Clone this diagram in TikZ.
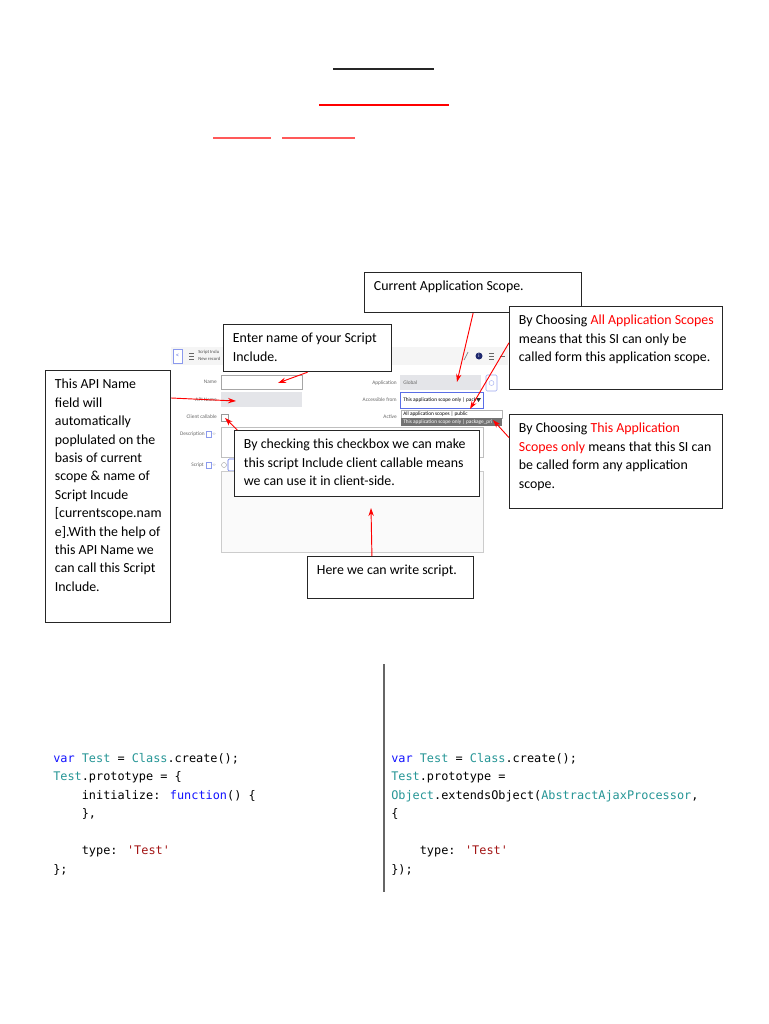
\documentclass[tikz,border=0pt]{standalone}
\usepackage{fontspec}
\setmainfont{Carlito}
\newfontfamily\codefont[Ligatures=TeXOff]{DejaVu Sans Mono}
\usepackage{xcolor}
\usetikzlibrary{positioning}
\usetikzlibrary{arrows.meta}
\usetikzlibrary{calc}

\definecolor{kwblue}{RGB}{20,20,255}
\definecolor{clsteal}{RGB}{38,150,150}
\definecolor{strred}{RGB}{163,21,21}
\definecolor{fieldgray}{RGB}{228,229,233}
\definecolor{selblue}{RGB}{90,110,230}
\definecolor{navy}{RGB}{30,40,110}

\newcommand{\kw}[1]{\textcolor{kwblue}{#1}}
\newcommand{\cls}[1]{\textcolor{clsteal}{#1}}
\newcommand{\strlit}[1]{\textcolor{strred}{#1}}
\newcommand{\hl}[1]{\textcolor{red}{#1}}
\newcommand{\ind}{\phantom{xxxx}}
\newcommand{\notebox}[3]{\parbox[t][#2][t]{#1}{\begin{tabular}[t]{@{}l@{}}#3\end{tabular}}}

\tikzset{note/.style={draw=black!85,line width=0.9pt,fill=white,anchor=north west,inner xsep=7pt,inner ysep=4pt,font=\fontsize{10.4}{13.8}\selectfont},}
\tikzset{pointer/.style={->,>={Stealth[length=6pt,width=4pt]},red,line width=0.7pt},}
\tikzset{code line/.style={anchor=base west,inner sep=0pt,font=\codefont\fontsize{8.9}{13.9}\selectfont},}
\tikzset{form label/.style={anchor=east,inner sep=0pt,text=black!60,font=\fontsize{4}{4.5}\selectfont},}
\tikzset{form text/.style={anchor=west,inner sep=0pt,font=\fontsize{4}{4.5}\selectfont},}

\begin{document}
\begin{tikzpicture}[x=0.75pt,y=-0.75pt]
    \useasboundingbox (0,0) rectangle (768,1024);
    \fill[white] (0,0) rectangle (768,1024);

    % heading rules
    \draw[line width=1.5pt,black!85] (333,69) -- (434,69);
    \draw[line width=1.5pt,red] (319,105) -- (449,105);
    \draw[line width=1.1pt,red!65] (213,138) -- (271,138);
    \draw[line width=1.1pt,red!65] (282,138) -- (355,138);

    % form screenshot
    \fill[black!4] (171,347) rectangle (508,365);
    \node[draw=selblue!70,fill=white,minimum width=6.75pt,minimum height=10.5pt,inner sep=0pt,text=selblue,font=\fontsize{5}{5}\selectfont] (backbtn) at (177.5,356) {\textless};
    \draw[black!60,line width=0.4pt] (189,353) -- (194,353) (189,356) -- (194,356) (189,359) -- (194,359);
    \node[form text,text=black!70,font=\fontsize{3.5}{4}\selectfont] (ttl1) at (198,352) {Script Inclu};
    \node[form text,text=black!70,font=\fontsize{3.5}{4}\selectfont] (ttl2) at (198,359) {New record};
    \draw[black!50,line width=0.5pt] (464,360) -- (468,352);
    \fill[navy] (479,356) circle (3.5);
    \node[inner sep=0pt,text=white,font=\fontsize{4}{4}\selectfont] (infoi) at (479,356) {i};
    \draw[black!60,line width=0.4pt] (489,353) -- (494,353) (489,356) -- (494,356) (489,359) -- (494,359);
    \draw[black!60,line width=0.4pt] (500,356) -- (505,356);

    \node[form label] (lname) at (217,382) {Name};
    \node[form label] (lapi) at (217,400) {API Name};
    \node[form label] (lclient) at (217,417) {Client callable};
    \node[form label] (ldesc) at (205,434) {Description};
    \node[form label] (lscript) at (204,465) {Script};
    \draw[selblue!70,line width=0.3pt] (206,431) rectangle (211,437) (206,462) rectangle (211,468);
    \node[form text,text=black!50] (ldesctag) at (212,434) {‹›};
    \node[form text,text=black!50] (lscripttag) at (212,465) {‹›};

    \draw[black!35,fill=white] (221,375) rectangle (302,389);
    \fill[fieldgray] (221,392) rectangle (302,407);
    \draw[black!40,fill=white] (221,414) rectangle (228,421);
    \draw[black!25,fill=white] (221,427) rectangle (483,457);
    \draw[black!40,line width=0.3pt] (224,465) circle (2.5);
    \draw[selblue,line width=0.4pt,fill=white,rounded corners=1pt] (228,459) rectangle (236,471);
    \draw[black!20,fill=black!2] (221,471) rectangle (483,552);

    \node[form label] (lapp) at (397,383) {Application};
    \fill[fieldgray] (400,375) rectangle (481,390);
    \node[form text,text=black!60] (vapp) at (403,382.5) {Global};
    \draw[selblue!60,fill=white,rounded corners=1pt] (486,375) rectangle (497,391);
    \draw[selblue!60,line width=0.3pt] (491.5,383) circle (2.5);
    \node[form label] (lacc) at (397,400) {Accessible from};
    \draw[selblue,line width=0.6pt,fill=white] (400,392) rectangle (483,408);
    \node[form text] (vacc) at (403,400) {This application scope only | pack};
    \fill[black!80] (476,398) -- (481,398) -- (478.5,402) -- cycle;
    \node[form label] (lact) at (397,417) {Active};
    \draw[black!30,fill=white] (401,410) rectangle (502,418);
    \node[form text] (vpub) at (403,414) {All application scopes | public};
    \fill[black!55] (401,418) rectangle (502,426);
    \node[form text,text=white] (vpkg) at (403,422) {This application scope only | package\_pri};

    % arrow targets on the form
    \coordinate (append) at (457,382);
    \coordinate (pubend) at (470,409);
    \coordinate (pkgend) at (493,420);
    \coordinate (nameend) at (278,383);
    \coordinate (apiend) at (236,401);
    \coordinate (chkend) at (225,418);
    \coordinate (scrend) at (371,508);

    % notes
    \node[note] (curscope) at (364,272) {\notebox{148.75pt}{22pt}{Current Application Scope.}};
    \node[note] (allscopes) at (509,306) {\notebox{145.75pt}{54.25pt}{By Choosing \hl{All Application Scopes}\\ means that this SI can only be\\ called form this application scope.}};
    \node[note] (thisscope) at (509,414) {\notebox{145.75pt}{62.5pt}{By Choosing \hl{This Application}\\ \hl{Scopes only} means that this SI can\\ be called form any application\\ scope.}};
    \node[note] (entername) at (223,324) {\notebox{112pt}{27.25pt}{Enter name of your Script\\ Include.}};
    \node[note] (apinote) at (45,370) {\notebox{79.75pt}{181pt}{This API Name\\ field will\\ automatically\\ poplulated on the\\ basis of current\\ scope \& name of\\ Script Incude\\{}[currentscope.nam\\ e].With the help of\\ this API Name we\\ can call this Script\\ Include.}};
    \node[note] (clientnote) at (234,430) {\notebox{169.75pt}{41.5pt}{By checking this checkbox we can make\\ this script Include client callable means\\ we can use it in client-side.}};
    \node[note] (scriptnote) at (307,556) {\notebox{110.5pt}{23.5pt}{Here we can write script.}};

    \path[pointer]
    (curscope.south) edge (append)
    ([yshift=4pt]allscopes.west) edge (pubend)
    ([yshift=18pt]thisscope.west) edge (pkgend)
    (entername.south) edge (nameend)
    ([yshift=-21pt]apinote.north east) edge (apiend)
    ([xshift=2.5pt]clientnote.north west) edge (chkend)
    ([xshift=-14pt]scriptnote.north) edge (scrend);

    % code samples
    \coordinate (divtop) at (384,664);
    \coordinate (divbot) at (384,892);
    \draw[line width=1.1pt,black!60] (divtop) -- (divbot);

    \node[code line] (lc1) at (53,762) {\kw{var} \cls{Test} = \cls{Class}.create();};
    \node[code line] (lc2) at (53,780.5) {\cls{Test}.prototype = \{};
    \node[code line] (lc3) at (53,799) {\ind initialize: \kw{function}() \{};
    \node[code line] (lc4) at (53,817.5) {\ind \},};
    \node[code line] (lc5) at (53,854.5) {\ind type: \strlit{'Test'}};
    \node[code line] (lc6) at (53,873) {\};};

    \node[code line] (rc1) at (391,762) {\kw{var} \cls{Test} = \cls{Class}.create();};
    \node[code line] (rc2) at (391,780.5) {\cls{Test}.prototype =};
    \node[code line] (rc3) at (391,799) {\cls{Object}.extendsObject(\cls{AbstractAjaxProcessor},};
    \node[code line] (rc4) at (391,817.5) {\{};
    \node[code line] (rc5) at (391,854.5) {\ind type: \strlit{'Test'}};
    \node[code line] (rc6) at (391,873) {\});};
\end{tikzpicture}
\end{document}
